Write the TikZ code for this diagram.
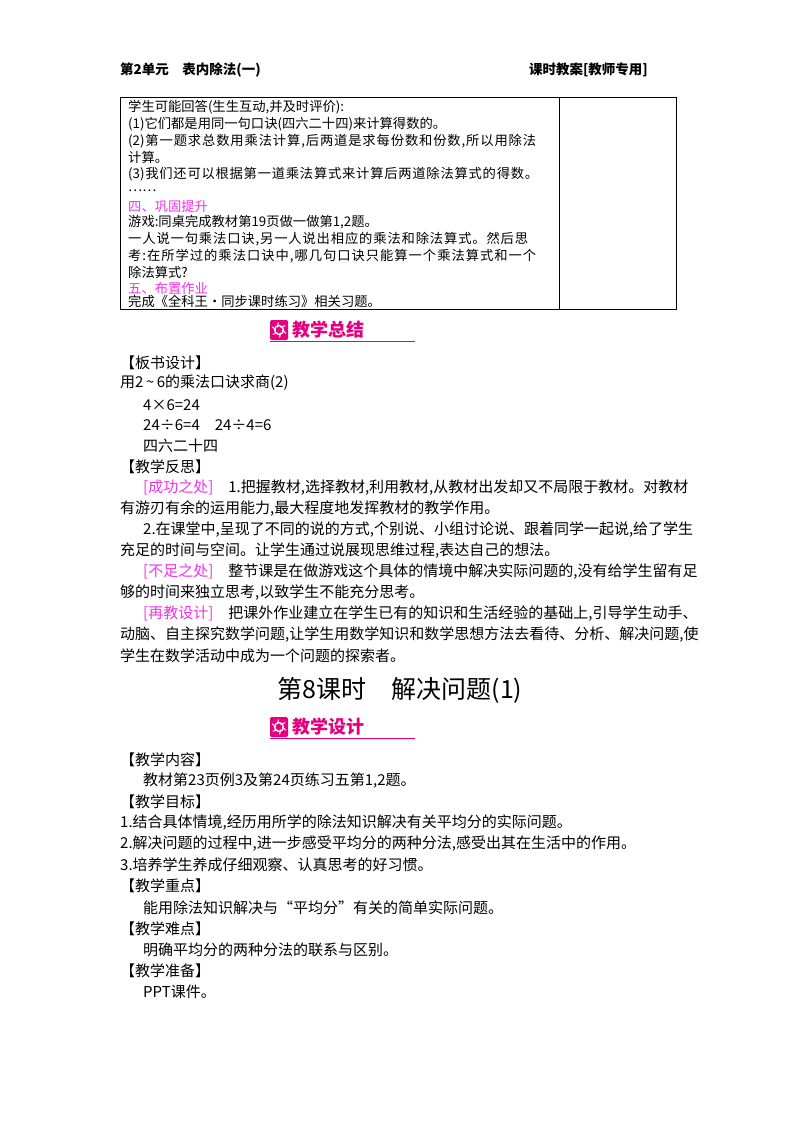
\documentclass[tikz,border=0pt]{standalone}
\usepackage{fontspec}
\newfontfamily\cjk{Noto Sans CJK SC}
\definecolor{pk}{HTML}{E4007F}
\definecolor{mg}{HTML}{F032E6}
\XeTeXinterchartokenstate=1
\newcount\cc
\cc="3000 \loop\XeTeXcharclass\cc=1 \advance\cc by 1 \ifnum\cc<"3040 \repeat
\cc="4E00 \loop\XeTeXcharclass\cc=1 \advance\cc by 1 \ifnum\cc<"A000 \repeat
\cc="FF00 \loop\XeTeXcharclass\cc=1 \advance\cc by 1 \ifnum\cc<"FFF0 \repeat
\XeTeXcharclass"2026=1 \XeTeXcharclass"00D7=1 \XeTeXcharclass"00F7=1
\XeTeXinterchartoks 1 1 = {\hskip0pt plus 1pt}
\XeTeXinterchartoks 1 0 = {\hskip0pt plus 1pt}
\XeTeXinterchartoks 0 1 = {\hskip0pt plus 1pt}
\newcommand{\fl}[2]{\makebox[#1pt][s]{#2}}
\begin{document}
\begin{tikzpicture}[x=1pt,y=-1pt,
 t/.style={anchor=west,inner sep=0pt,font=\cjk\fontsize{13.3}{15}\selectfont},
 m/.style={anchor=west,inner sep=0pt,font=\cjk\fontsize{15}{17}\selectfont},
 h/.style={anchor=west,inner sep=0pt,font=\cjk\bfseries\fontsize{13.5}{15}\selectfont}]
\useasboundingbox (0,0) rectangle (800,1132);
\node[h] (h1) at (120,70) {第2单元\quad 表内除法(一)};
\node[h,anchor=east] (h2) at (648,70) {课时教案[教师专用]};
\draw[line width=1pt] (120,97) rectangle (676,309);
\draw[line width=1pt] (559,97) -- (559,309);
\node[t] (a1) at (128,107) {学生可能回答(生生互动,并及时评价):};
\node[t] (a2) at (128,124) {(1)它们都是用同一句口诀(四六二十四)来计算得数的。};
\node[t] (a3) at (128,141) {\fl{408}{(2)第一题求总数用乘法计算,后两道是求每份数和份数,所以用除法}};
\node[t] (a4) at (128,157.5) {计算。};
\node[t] (a5) at (128,174) {\fl{410}{(3)我们还可以根据第一道乘法算式来计算后两道除法算式的得数。}};
\node[t] (a6) at (128,191) {……};
\node[t,text=mg] (a7) at (128,206) {四、巩固提升};
\node[t] (a8) at (128,222) {游戏:同桌完成教材第19页做一做第1,2题。};
\node[t] (a9) at (128,239) {\fl{400}{一人说一句乘法口诀,另一人说出相应的乘法和除法算式。然后思}};
\node[t] (a10) at (128,256) {\fl{408}{考:在所学过的乘法口诀中,哪几句口诀只能算一个乘法算式和一个}};
\node[t] (a11) at (128,272) {除法算式?};
\node[t,text=mg] (a12) at (128,288) {五、布置作业};
\node[t] (a13) at (128,301) {完成《全科王·同步课时练习》相关习题。};
\foreach \yy/\txt/\nm in {330/教学总结/b1,727/教学设计/b2}{
 \fill[pk,rounded corners=1.5pt] (270,\yy-10) rectangle (288,\yy+10);
 \draw[white,line width=1.3pt] (279,\yy) circle (4.5);
 \foreach \a in {0,60,...,300}{\draw[white,line width=1pt] (279,\yy) ++(\a:3) -- ++(\a+40:5);}
 \node[anchor=west,inner sep=0pt,text=pk,font=\cjk\bfseries\fontsize{18}{19}\selectfont] (\nm) at (292,\yy) {\txt};
 \draw[pk,line width=0.8pt] (270,\yy+11.5) -- (415,\yy+11.5);
}
\node[m] (c1) at (120,363) {【板书设计】};
\node[m] (c2) at (120,383) {用2\,\textasciitilde\,6的乘法口诀求商(2)};
\node[m] (c3) at (143,405) {4×6=24};
\node[m] (c4) at (143,425) {24÷6=4\quad 24÷4=6};
\node[m] (c5) at (143,446) {四六二十四};
\node[m] (c6) at (120,467) {【教学反思】};
\node[m] (c7) at (143,488) {\fl{534}{\textcolor{mg}{[成功之处]}\quad 1.把握教材,选择教材,利用教材,从教材出发却又不局限于教材。对教材}};
\node[m] (c8) at (120,509) {有游刃有余的运用能力,最大程度地发挥教材的教学作用。};
\node[m] (c9) at (143,530) {\fl{534}{2.在课堂中,呈现了不同的说的方式,个别说、小组讨论说、跟着同学一起说,给了学生}};
\node[m] (c10) at (120,551) {充足的时间与空间。让学生通过说展现思维过程,表达自己的想法。};
\node[m] (c11) at (143,572) {\fl{534}{\textcolor{mg}{[不足之处]}\quad 整节课是在做游戏这个具体的情境中解决实际问题的,没有给学生留有足}};
\node[m] (c12) at (120,593) {够的时间来独立思考,以致学生不能充分思考。};
\node[m] (c13) at (143,614) {\fl{534}{\textcolor{mg}{[再教设计]}\quad 把课外作业建立在学生已有的知识和生活经验的基础上,引导学生动手、}};
\node[m] (c14) at (120,635) {\fl{555}{动脑、自主探究数学问题,让学生用数学知识和数学思想方法去看待、分析、解决问题,使}};
\node[m] (c15) at (120,656) {学生在数学活动中成为一个问题的探索者。};
\node[anchor=center,inner sep=0pt,font=\cjk\fontsize{25}{27}\selectfont] (title) at (400,690) {第8课时\quad 解决问题(1)};
\node[m] (d1) at (120,760) {【教学内容】};
\node[m] (d2) at (143,781) {教材第23页例3及第24页练习五第1,2题。};
\node[m] (d3) at (120,802) {【教学目标】};
\node[m] (d4) at (120,823) {1.结合具体情境,经历用所学的除法知识解决有关平均分的实际问题。};
\node[m] (d5) at (120,844) {2.解决问题的过程中,进一步感受平均分的两种分法,感受出其在生活中的作用。};
\node[m] (d6) at (120,865) {3.培养学生养成仔细观察、认真思考的好习惯。};
\node[m] (d7) at (120,886) {【教学重点】};
\node[m] (d8) at (143,908) {能用除法知识解决与“平均分”有关的简单实际问题。};
\node[m] (d9) at (120,929) {【教学难点】};
\node[m] (d10) at (143,950) {明确平均分的两种分法的联系与区别。};
\node[m] (d11) at (120,971) {【教学准备】};
\node[m] (d12) at (143,992) {PPT课件。};
\end{tikzpicture}
\end{document}
